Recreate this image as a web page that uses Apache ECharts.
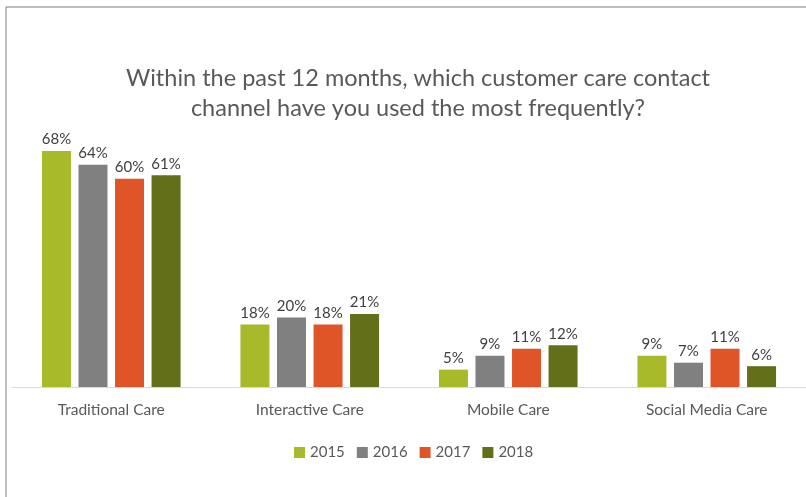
<!DOCTYPE html>
<html>
<head>
<meta charset="utf-8">
<script src="https://cdn.jsdelivr.net/npm/echarts@6/dist/echarts.min.js"></script>
<style>
  html, body { margin: 0; padding: 0; background: #ffffff; }
  #chart { width: 806px; height: 497px; }
</style>
</head>
<body>
<div id="chart"></div>
<script>
// Survey: most frequently used customer care contact channel, by year (%)
const categories = ['Traditional Care', 'Interactive Care', 'Mobile Care', 'Social Media Care'];
const years = ['2015', '2016', '2017', '2018'];
const values2015 = [68, 18, 5, 9];
const values2016 = [64, 20, 9, 7];
const values2017 = [60, 18, 11, 11];
const values2018 = [61, 21, 12, 6];
const colors = ['#a8b92a', '#808080', '#e05527', '#646f1a'];

const seriesValues = [values2015, values2016, values2017, values2018];
const FONT = 'Lato, "Open Sans", sans-serif';

const chart = echarts.init(document.getElementById('chart'), null, { renderer: 'canvas' });

chart.setOption({
  backgroundColor: '#ffffff',
  animation: false,
  color: colors,
  title: {
    text: 'Within the past 12 months, which customer care contact\nchannel have you used the most frequently?',
    left: 413,
    top: 58,
    textAlign: 'center',
    textStyle: {
      fontFamily: FONT,
      fontSize: 23.5,
      fontWeight: 'normal',
      color: '#595959',
      lineHeight: 30
    }
  },
  legend: {
    data: years,
    left: 294,
    top: 445,
    padding: 0,
    itemWidth: 11,
    itemHeight: 11,
    itemGap: 12,
    icon: 'rect',
    textStyle: { fontFamily: FONT, fontSize: 15, color: '#595959' }
  },
  grid: { left: 12, right: -7, top: 144, bottom: 110, containLabel: false },
  xAxis: {
    type: 'category',
    data: categories,
    axisLine: { lineStyle: { color: '#d9d9d9', width: 1 } },
    axisTick: { show: false },
    axisLabel: { fontFamily: FONT, fontSize: 15.5, color: '#595959', margin: 15 }
  },
  yAxis: {
    type: 'value',
    min: 0,
    max: 70,
    show: false,
    splitLine: { show: false }
  },
  graphic: [
    {
      type: 'polyline',
      shape: { points: [[6, 497], [6, 7], [806, 7]] },
      style: { stroke: '#7f7f7f', lineWidth: 1, fill: null }
    }
  ],
  series: years.map((y, i) => ({
    name: y,
    type: 'bar',
    data: seriesValues[i],
    barWidth: 29,
    barGap: '26%',
    itemStyle: { color: colors[i] },
    label: {
      show: true,
      position: 'top',
      distance: 4,
      formatter: '{c}%',
      fontFamily: FONT,
      fontSize: 15,
      color: '#404040'
    }
  }))
});
</script>
</body>
</html>
